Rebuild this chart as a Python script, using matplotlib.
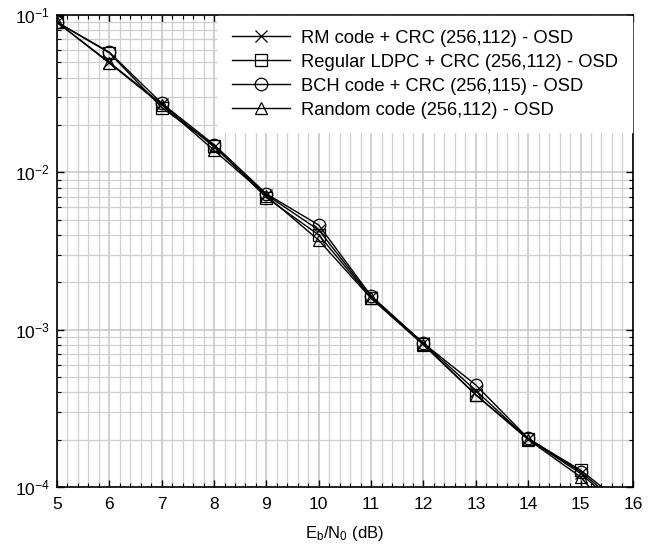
import matplotlib
matplotlib.use('Agg')
import matplotlib.pyplot as plt
from matplotlib.ticker import LogLocator, MultipleLocator, NullFormatter
import numpy as np

plt.rcParams['font.family'] = 'Liberation Sans'
plt.rcParams['mathtext.fontset'] = 'custom'
plt.rcParams['mathtext.rm'] = 'Liberation Sans'
plt.rcParams['mathtext.it'] = 'Liberation Sans:italic'

# Data
ebn0 = [5, 6, 7, 8, 9, 10, 11, 12, 13, 14, 15, 16]
rm_code = [0.090, 0.050, 0.0272, 0.0145, 0.0072, 0.0043, 0.00162, 0.00082, 0.00041, 0.000202, 0.000122, 0.000062]
ldpc = [0.090, 0.0575, 0.0258, 0.0148, 0.0069, 0.0040, 0.00160, 0.00081, 0.000385, 0.000203, 0.000128, 0.000070]
bch = [0.090, 0.0580, 0.0275, 0.0150, 0.0073, 0.00462, 0.00164, 0.00082, 0.000445, 0.000204, 0.000125, 0.000066]
random_code = [0.090, 0.0495, 0.0268, 0.0138, 0.0071, 0.0037, 0.00158, 0.00080, 0.000385, 0.000200, 0.000116, 0.000048]

labels = ['RM code + CRC (256,112) - OSD',
          'Regular LDPC + CRC (256,112) - OSD',
          'BCH code + CRC (256,115) - OSD',
          'Random code (256,112) - OSD']
markers = ['x', 's', 'o', '^']

fig = plt.figure(figsize=(6.65, 5.47), dpi=100)
ax = fig.add_axes([0.0857, 0.1097, 0.866, 0.8629])

for ys, lab, m in zip([rm_code, ldpc, bch, random_code], labels, markers):
    ax.semilogy(ebn0, ys, color='black', lw=1.0, marker=m, markersize=9,
                markerfacecolor='none', markeredgecolor='black', markeredgewidth=0.9,
                label=lab)

ax.set_xlim(5, 16)
ax.set_ylim(1e-4, 1e-1)
ax.xaxis.set_major_locator(MultipleLocator(1))
ax.xaxis.set_minor_locator(MultipleLocator(0.2))
ax.yaxis.set_major_locator(LogLocator(base=10, numticks=10))
ax.yaxis.set_minor_locator(LogLocator(base=10, subs=np.arange(2, 10), numticks=10))
ax.yaxis.set_minor_formatter(NullFormatter())

ax.grid(True, which='major', color='#c4c4c4', lw=1.1)
ax.grid(True, which='minor', color='#cfcfcf', lw=0.9)
ax.set_axisbelow(True)

ax.tick_params(which='both', direction='in', top=True, right=True, labelsize=12.5)
ax.tick_params(axis='x', pad=7)
ax.tick_params(axis='y', pad=5)
ax.tick_params(which='major', length=5, width=1)
ax.tick_params(which='minor', length=3, width=0.8)
for s in ax.spines.values():
    s.set_linewidth(1.2)

ax.set_xlabel(r'E$_\mathrm{b}$/N$_\mathrm{0}$ (dB)', fontsize=12, labelpad=9)

leg = ax.legend(loc='upper right', fontsize=13.2, frameon=True, fancybox=False,
                borderaxespad=0.05, handlelength=3.2, handletextpad=0.6,
                labelspacing=0.38, borderpad=0.75)
leg.get_frame().set_edgecolor('white')
leg.get_frame().set_alpha(1)

fig.savefig('out.png', dpi=100)
